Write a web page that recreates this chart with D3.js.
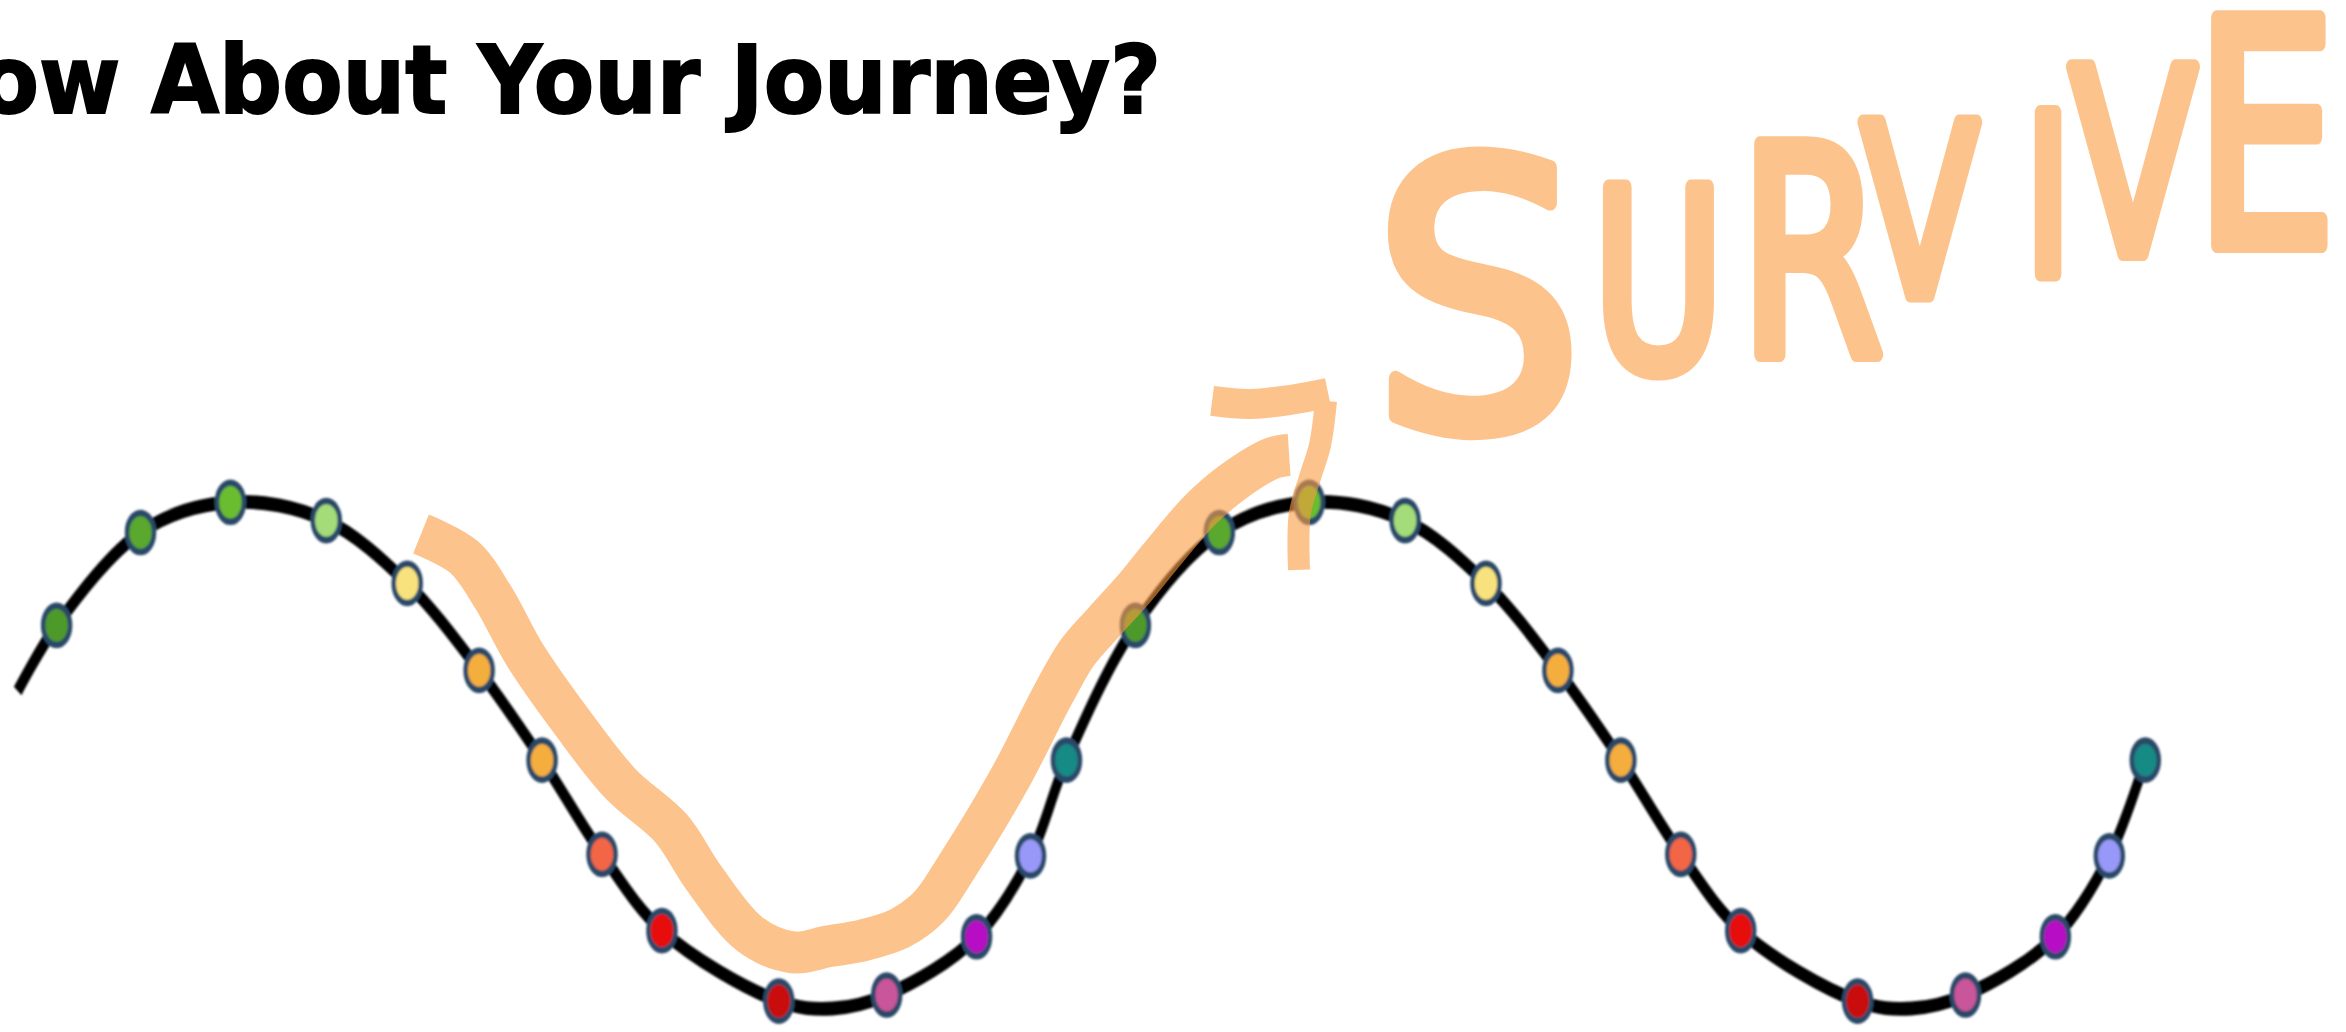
<!DOCTYPE html>
<html>
<head>
<meta charset="utf-8">
<script src="https://cdn.jsdelivr.net/npm/d3@7"></script>
<style>
  html, body { margin: 0; padding: 0; background: #fff; overflow: hidden; }
</style>
</head>
<body>
<div id="chart"></div>
<script>
var svgWidth = 2346
var svgHeight = 1032

// stops along the journey: phase (degrees) and how high each one sits (-1 .. 1)
var phase = [32, 60, 90, 122, 149, 173, 194, 214, 234, 273, 309, 339, 357, 369,
  392, 420, 450, 482, 509, 533, 554, 574, 594, 633, 669, 699, 717, 729]
var mood = [0.506, 0.871, 0.99, 0.918, 0.671, 0.329, -0.024, -0.394, -0.694, -0.971, -0.947, -0.718, -0.4, -0.024,
  0.506, 0.871, 0.99, 0.918, 0.671, 0.329, -0.024, -0.394, -0.694, -0.971, -0.947, -0.718, -0.4, -0.024]
var stopColors = ["#4e9a2c", "#5aa82e", "#6bbd2e", "#a4dc7a", "#f7e27e", "#f4ae3d", "#f4ae3d",
  "#f26645", "#e80a0a", "#c90c10", "#c9559a", "#b70fc4", "#9898f8", "#148a85"]

// extra points the black line passes through (start and the two valleys)
var lineExtra = [[19, 0.248], [291, -1.0], [651, -1.0]]

// hand drawn "survive" stroke, same units as the wave
var survivePath = [[153.6, 0.865], [167.9, 0.775], [177.6, 0.618], [188.3, 0.389], [203.7, 0.13],
  [220.3, -0.118], [237, -0.291], [248, -0.487], [263.4, -0.708], [277.7, -0.779], [289.8, -0.755],
  [301.4, -0.731], [313.5, -0.684], [323.1, -0.601], [332.5, -0.44], [349.8, -0.102], [364.8, 0.24],
  [372.5, 0.397], [381.2, 0.515], [391.2, 0.645], [400.2, 0.775], [413.6, 0.959], [424.6, 1.07],
  [437.9, 1.164], [443.3, 1.176]]
var arrowBar = [[417.6, 1.388], [430.2, 1.376], [443.6, 1.392], [456.3, 1.42]]
var arrowStem = [[455.6, 1.388], [453.6, 1.215], [450.3, 1.089], [446.9, 0.947], [446.6, 0.724]]

var word = "SURVIVE"
var titleText = "How About Your Journey?"

// layout of the scribbled letters: [left, right, top, bottom, squash]
var letterBoxes = [
  [1371, 1585, 151, 435, 0.9],
  [1591, 1726, 180, 377, 0.72],
  [1747, 1876, 136, 362, 0.72],
  [1854, 1986, 115, 303, 0.72],
  [2035, 2061, 105, 282, 0.72],
  [2068, 2198, 59, 261, 0.72],
  [2209, 2322, 10, 253, 0.72]
]

var stretch = 1.45   // the wave picture is stretched vertically
var orange = "#fc9b41"
var wordStroke = 15

var svg = d3.select("#chart")
  .append("svg")
  .attr("width", svgWidth)
  .attr("height", svgHeight)
  .style("display", "block")

svg.append("rect").attr("width", svgWidth).attr("height", svgHeight).attr("fill", "#fff")

var defs = svg.append("defs")
defs.append("filter").attr("id", "soft")
  .attr("x", "-5%").attr("y", "-5%").attr("width", "110%").attr("height", "110%")
  .append("feGaussianBlur").attr("stdDeviation", 0.8)

// scales
var xScale = d3.scaleLinear()
  .domain([0, 720])
  .range([-39.27, 2118.3])

var yScale = d3.scaleLinear()
  .domain([-1, 1])
  .range([1008.5, 499.7])

var stops = phase.map(function(p, i) {
  return { p: p, v: mood[i], color: stopColors[i % stopColors.length] }
})

var linePts = stops.map(function(d) { return [d.p, d.v] }).concat(lineExtra)
  .sort(function(a, b) { return a[0] - b[0] })

// wave group
var wave = svg.append("g")
  .attr("transform", `scale(1, ${stretch})`)
  .attr("filter", "url(#soft)")

var waveLine = d3.line()
  .x(d => xScale(d[0]))
  .y(d => yScale(d[1]) / stretch)
  .curve(d3.curveCatmullRom)

wave.append("path")
  .datum(linePts)
  .attr("d", waveLine)
  .attr("fill", "none")
  .attr("stroke", "#000")
  .attr("stroke-width", 9.5)

wave.selectAll("circle")
  .data(stops)
  .enter()
  .append("circle")
  .attr("cx", d => xScale(d.p))
  .attr("cy", d => yScale(d.v) / stretch)
  .attr("r", 13.5)
  .attr("fill", d => d.color)
  .attr("stroke", "#2b4868")
  .attr("stroke-width", 4.5)

// orange scribble on top
var ink = svg.append("g").attr("opacity", 0.6)

var inkLine = d3.line()
  .x(d => xScale(d[0]))
  .y(d => yScale(d[1]))
  .curve(d3.curveCatmullRom)

ink.append("path").datum(survivePath).attr("d", inkLine)
  .attr("fill", "none").attr("stroke", orange).attr("stroke-width", 42)
  .attr("stroke-linejoin", "round")

ink.append("path").datum(arrowBar).attr("d", inkLine)
  .attr("fill", "none").attr("stroke", orange).attr("stroke-width", 30)
  .attr("stroke-linejoin", "round")

ink.append("path").datum(arrowStem).attr("d", inkLine)
  .attr("fill", "none").attr("stroke", orange).attr("stroke-width", 22)
  .attr("stroke-linejoin", "round")

// the scribbled word: the wide S on its own, the rest in one text
function letterText(parts, squash) {
  var t = ink.append("text")
    .attr("transform", `scale(${squash}, 1)`)
    .attr("font-family", "'DejaVu Sans', sans-serif")
    .attr("text-anchor", "middle")
    .attr("fill", orange)
    .attr("stroke", orange)
    .attr("stroke-width", wordStroke)
    .attr("stroke-linejoin", "round")
  t.selectAll("tspan")
    .data(parts)
    .enter()
    .append("tspan")
    .attr("x", d => (d.box[0] + d.box[1]) / 2 / squash)
    .attr("y", d => d.box[3] - wordStroke / 2)
    .attr("font-size", d => (d.box[3] - d.box[2] - wordStroke) / 0.73)
    .text(d => d.ch)
}

var letters = word.split("").map(function(ch, i) { return { ch: ch, box: letterBoxes[i] } })
letterText(letters.slice(0, 1), letterBoxes[0][4])
letterText(letters.slice(1), letterBoxes[1][4])

// title, its first letter runs off the left edge
var title = svg.append("text")
  .text(titleText)
  .attr("font-family", "Tahoma, 'DejaVu Sans', sans-serif")
  .attr("font-weight", "bold")
  .attr("font-size", 95)
  .attr("fill", "#000")
  .attr("stroke", "#000")
  .attr("stroke-width", 2)
  .attr("y", 113)

var tn = title.node()
var prefix = tn.getSubStringLength(0, 4)
var rest = tn.getSubStringLength(4, titleText.length - 4)
var tsx = 1010 / rest
title.attr("x", 151 - prefix * tsx)
  .attr("textLength", (prefix + rest) * tsx)
  .attr("lengthAdjust", "spacingAndGlyphs")
</script>
</body>
</html>
